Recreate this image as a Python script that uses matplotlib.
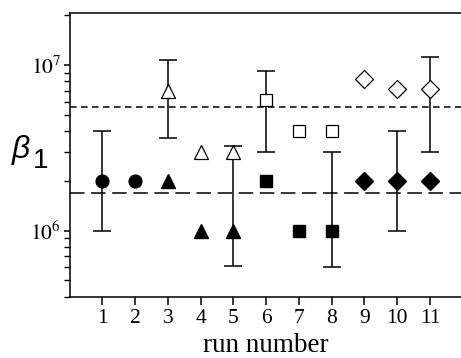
import matplotlib
matplotlib.use("Agg")
import matplotlib.pyplot as plt
from matplotlib.ticker import LogLocator, NullFormatter, FixedLocator
import numpy as np

plt.rcParams['mathtext.fontset'] = 'stix'
plt.rcParams['font.family'] = ['Liberation Serif', 'DejaVu Serif']

# ---- data ----
runs_filled_circle = [1, 2]
vals_filled_circle = [2.0e6, 2.0e6]

runs_open_tri = [3, 4, 5]
vals_open_tri = [7.0e6, 3.0e6, 3.0e6]
runs_filled_tri = [3, 4, 5]
vals_filled_tri = [2.0e6, 1.0e6, 1.0e6]

runs_open_sq = [6, 7, 8]
vals_open_sq = [6.15e6, 4.0e6, 4.0e6]
runs_filled_sq = [6, 7, 8]
vals_filled_sq = [2.0e6, 1.0e6, 1.0e6]

runs_open_dia = [9, 10, 11]
vals_open_dia = [8.2e6, 7.2e6, 7.2e6]
runs_filled_dia = [9, 10, 11]
vals_filled_dia = [2.0e6, 2.0e6, 2.0e6]

err_runs = [1, 3, 5, 6, 8, 10, 11]
err_center = [2.0e6, 7.0e6, 1.0e6, 6.15e6, 1.0e6, 2.0e6, 7.2e6]
err_low = [1.0e6, 3.6e6, 6.1e5, 3.0e6, 6.0e5, 1.0e6, 3.0e6]
err_high = [4.0e6, 1.07e7, 3.25e6, 9.2e6, 3.0e6, 4.0e6, 1.12e7]

hline_short = 5.6e6
hline_long = 1.69e6

xticks = list(range(1, 12))

# ---- figure ----
fig = plt.figure(figsize=(4.61, 3.58), dpi=100)
ax = fig.add_axes([69.5/461, (358-296.5)/358, (462.7-69.5)/461, (296.5-13.3)/358])
ax.set_yscale('log')
ax.set_xlim(0, 12)
ax.set_ylim(4.0e5, 2.05e7)

ax.axhline(hline_short, color='black', lw=1.1, dashes=(4.3, 2.9), zorder=1)
ax.axhline(hline_long, color='black', lw=1.1, dashes=(9.5, 4.3), zorder=1)

ec = np.array(err_center)
yerr = [ec - np.array(err_low), np.array(err_high) - ec]
ax.errorbar(err_runs, err_center, yerr=yerr, fmt='none', ecolor='black',
            elinewidth=1.1, capsize=6.3, capthick=1.1, zorder=2)

ax.plot(runs_filled_circle, vals_filled_circle, 'o', color='black', ms=9.2, zorder=3)
ax.plot(runs_open_tri, vals_open_tri, '^', mfc='white', mec='black', mew=0.9, ms=10.5, zorder=3)
ax.plot(runs_filled_tri, vals_filled_tri, '^', color='black', ms=10.5, zorder=3)
ax.plot(runs_open_sq, vals_open_sq, 's', mfc='white', mec='black', mew=0.9, ms=8.0, zorder=3)
ax.plot(runs_filled_sq, vals_filled_sq, 's', color='black', ms=8.0, zorder=3)
ax.plot(runs_open_dia, vals_open_dia, 'D', mfc='white', mec='black', mew=0.9, ms=8.8, zorder=3)
ax.plot(runs_filled_dia, vals_filled_dia, 'D', color='black', ms=8.8, zorder=3)

ax.set_xticks(xticks)
ax.set_xticklabels([str(t) for t in xticks])
ax.yaxis.set_major_locator(FixedLocator([1e6, 1e7]))
ax.set_yticklabels([r'$10^{6}$', r'$10^{7}$'])
ax.yaxis.set_minor_locator(LogLocator(base=10, subs=np.arange(2, 10)))
ax.yaxis.set_minor_formatter(NullFormatter())

ax.tick_params(axis='x', which='major', direction='out', length=5.8, width=1.1,
               labelsize=15.5, pad=3)
ax.tick_params(axis='y', which='major', direction='out', length=4.5, width=1.1,
               labelsize=15.5, pad=1.5)
ax.tick_params(axis='y', which='minor', direction='out', length=4.0, width=1.0)

for s in ['left', 'bottom', 'top']:
    ax.spines[s].set_linewidth(1.1)
ax.spines['right'].set_visible(False)

ax.set_xlabel('run number', fontsize=19.5, labelpad=3.5)

fig.text(11.7/461, (358-158)/358, 'β', fontsize=23, style='italic',
         family=['Liberation Sans', 'DejaVu Sans'], va='baseline', ha='left')
fig.text(33/461, (358-168)/358, '1', fontsize=20,
         family=['Liberation Sans', 'DejaVu Sans'], va='baseline', ha='left')

fig.savefig('out.png', dpi=100)
